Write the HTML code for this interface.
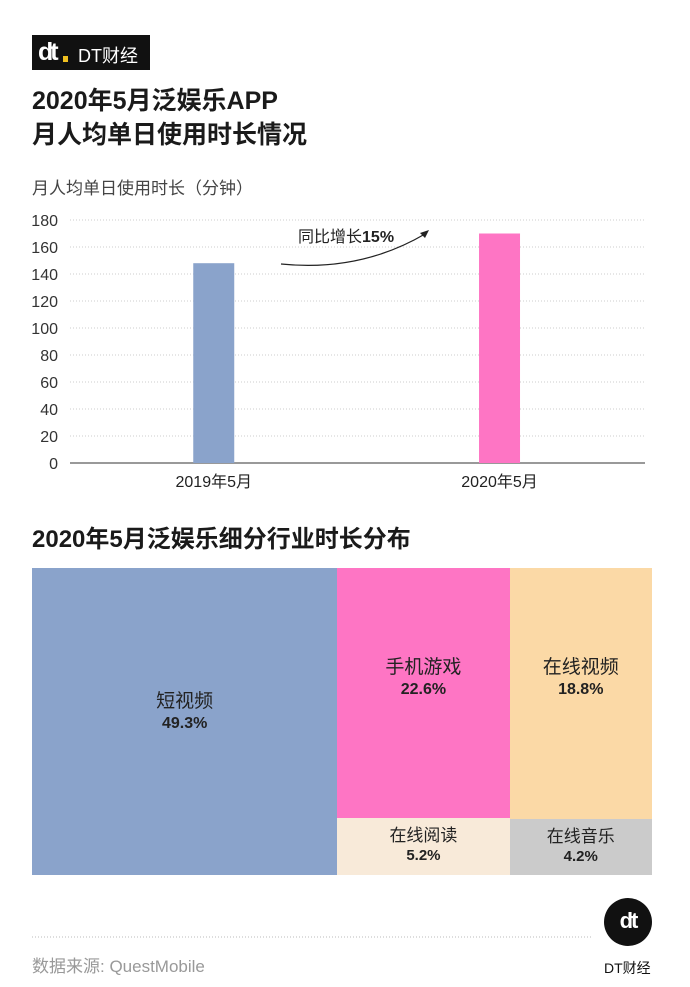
<!DOCTYPE html>
<html><head><meta charset="utf-8">
<style>
body{margin:0;background:#fff;}
#page{position:relative;width:690px;height:987px;overflow:hidden;background:#fff;font-family:"Liberation Sans","Noto Sans CJK SC",sans-serif;color:#1a1a1a;}
.abs{position:absolute;}
</style></head>
<body>
<div id="page">
  <div class="abs" style="left:32px;top:35px;width:118px;height:35px;background:#111;color:#fff;">
    <span style="position:absolute;left:6px;top:3px;font:bold 25px 'Liberation Sans',sans-serif;letter-spacing:-3px;">dt</span>
    <span style="position:absolute;left:31px;top:21px;width:5px;height:6px;background:#f0c020;"></span>
    <span style="position:absolute;left:46px;top:7px;font-size:18px;">DT财经</span>
  </div>
  <div class="abs" style="left:32px;top:84px;font-size:25px;font-weight:bold;line-height:34px;">2020年5月泛娱乐APP<br>月人均单日使用时长情况</div>
  <div class="abs" style="left:32px;top:174px;font-size:17px;color:#444;">月人均单日使用时长（分钟）</div>
  <svg class="abs" style="left:0;top:0" width="690" height="520" id="bar-svg"></svg>
  <div class="abs" style="left:32px;top:519px;font-size:24px;font-weight:bold;">2020年5月泛娱乐细分行业时长分布</div>
  <div class="abs" id="treemap" style="left:32px;top:568px;width:620px;height:307px;"></div>
  <svg class="abs" style="left:32px;top:936px" width="560" height="2"><line x1="0" y1="1" x2="560" y2="1" stroke="#bbb" stroke-dasharray="1,2"/></svg>
  <div class="abs" style="left:32px;top:952px;font-size:17px;color:#999;">数据来源: QuestMobile</div>
  <div class="abs" style="left:604px;top:898px;width:48px;height:48px;border-radius:50%;background:#111;color:#fff;font:bold 22px 'Liberation Sans',sans-serif;text-align:center;line-height:46px;letter-spacing:-2px;">dt</div>
  <div class="abs" style="left:604px;top:958px;font-size:14px;color:#111;">DT财经</div>
</div>
<script>
const categories=["2019年5月","2020年5月"];
const values=[148,170];
const colors=["#8aa3cb","#fe75c4"];
const ticks=[0,20,40,60,80,100,120,140,160,180];
const tmLabels=["短视频","手机游戏","在线阅读","在线视频","在线音乐"];
const tmValues=[49.3,22.6,5.2,18.8,4.2];
const tmColors=["#8aa3cb","#fe75c4","#f8ead9","#fbd9a6","#cbcbcb"];

const NS="http://www.w3.org/2000/svg";
const svg=document.getElementById('bar-svg');
const x0=70,x1=645,yTop=220,yBot=463,vMax=180;
const y=v=>yBot-(v/vMax)*(yBot-yTop);
const xc=i=>x0+(x1-x0)*(i===0?0.25:0.747);
function mk(t,a){const e=document.createElementNS(NS,t);for(const k in a)e.setAttribute(k,a[k]);return e;}
ticks.forEach(t=>{
  const g=mk('line',{x1:x0,x2:x1,y1:y(t),y2:y(t),stroke:t===0?'#999':'#ccc','stroke-width':t===0?2:1,'stroke-dasharray':t===0?'':'1,2'});
  
  
  svg.appendChild(g);
  const l=mk('text',{x:58,y:y(t)+6,'text-anchor':'end','font-size':16,fill:'#333'});
  l.textContent=t;
  
  
  svg.appendChild(l);
});
categories.forEach((c,i)=>{
  const cx=xc(i);
  const r=mk('rect',{x:cx-20.5,y:y(values[i]),width:41,height:yBot-y(values[i]),fill:colors[i]});
  
  
  svg.appendChild(r);
  const t=mk('text',{x:cx,y:487,'text-anchor':'middle','font-size':16,fill:'#222'});
  t.textContent=c;
  
  
  svg.appendChild(t);
});
const ann=mk('text',{x:298,y:242,'font-size':16,fill:'#222'});
ann.innerHTML='同比增长<tspan font-weight="bold">15%</tspan>';


svg.appendChild(ann);
const arr=mk('path',{d:'M281 264 Q360 272 425 234',fill:'none',stroke:'#222','stroke-width':1.2});


svg.appendChild(arr);
const head=mk('path',{d:'M429 230 L420 233 L425 238 Z',fill:'#222'});


svg.appendChild(head);

const tm=document.getElementById('treemap');
const W=620,H=307,total=tmValues.reduce((a,b)=>a+b,0);
const cols=[[0],[1,2],[3,4]];
let cx=0;
cols.forEach(col=>{
  const cs=col.reduce((a,i)=>a+tmValues[i],0);
  const w=W*cs/total;let cy=0;
  col.forEach(i=>{
    const h=H*tmValues[i]/cs;
    const d=document.createElement('div');
    
    
    d.style.cssText=`position:absolute;left:${cx}px;top:${cy}px;width:${w}px;height:${h}px;background:${tmColors[i]};display:flex;flex-direction:column;justify-content:center;align-items:center;text-align:center;color:#222;box-sizing:border-box;`;
    const small=h<100;
    d.innerHTML=`<div style="font-size:${small?17:19}px;line-height:${small?20:24}px">${tmLabels[i]}</div><div style="font-size:${small?15:16}px;font-weight:bold;line-height:20px">${tmValues[i].toFixed(1)}%</div>`;
    if(!small) d.style.paddingBottom=(i===0?'20px':'30px');
    tm.appendChild(d);cy+=h;
  });
  cx+=w;
});
</script>
</body></html>
